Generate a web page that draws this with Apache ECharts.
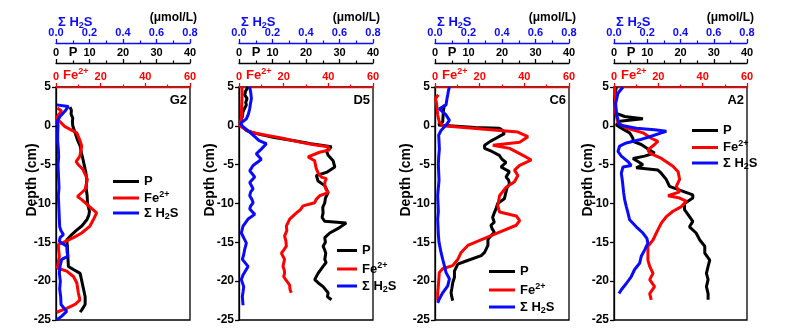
<!DOCTYPE html>
<html>
<head>
<meta charset="utf-8">
<script src="https://cdn.jsdelivr.net/npm/echarts@6/dist/echarts.min.js"></script>
<style>
  html, body { margin: 0; padding: 0; background: #fff; }
  #chart { width: 798px; height: 333px; }
</style>
</head>
<body>
<div id="chart"></div>
<script>
// Porewater profiles: depth (cm) against P, Fe2+ and ΣH2S concentrations.
// Each profile is a list of [depth, concentration] pairs.

const stations = ['G2', 'D5', 'C6', 'A2'];
const seriesNames = ['P', 'Fe2+', 'H2S'];

const depthTicks = [-25, 5, 5];      // min, max, step
const feTicks = [0, 60, 20];
const pTicks = [0, 40, 10];
const sTicks = [0, 0.8, 0.2];

// ---- G2 ----
const g2_P = [[2.4,4.2],[2.0,4.6],[1.5,4.5],[1.0,5.0],[0.5,4.9],[0,5.0],[-0.9,5.7],[-1.8,6.4],[-2.6,7.2],[-3.5,7.6],[-4.2,8.0],[-5,8.4],[-6,8.9],[-6.9,9.2],[-8,9.0],[-9,9.3],[-10,9.4],[-11,10.0],[-11.5,9.8],[-12.1,9.2],[-12.9,7.7],[-13.5,6.0],[-14,4.7],[-14.7,3.2],[-15.5,3.4],[-16.4,3.5],[-17.3,3.6],[-18.1,3.7],[-18.5,5.2],[-19,7.2],[-20,7.7],[-21,8.2],[-22,8.7],[-23,8.7],[-23.7,7.7],[-24,7.2]];
const g2_Fe = [[2.3,0.6],[1.9,2.5],[1.1,0.3],[0.6,1.5],[-0.1,4.0],[-0.9,9.3],[-1.8,10.6],[-2.6,11.5],[-3.9,10.7],[-4.6,9.0],[-5,10.0],[-5.6,12.0],[-6.3,13.2],[-6.9,14.0],[-7.5,13.6],[-8.2,13.0],[-9.1,9.6],[-9.5,11.5],[-10.4,15.0],[-11.2,18.2],[-12.1,16.7],[-12.9,15.2],[-13.8,11.5],[-14.4,7.8],[-15,3.3],[-15.3,1.0],[-16,1.2],[-16.8,1.5],[-17.6,1.0],[-18.3,0.6],[-18.7,4.8],[-19.4,7.8],[-20.2,9.3],[-21.5,10.0],[-22.4,10.7],[-23,8.5],[-23.5,4.8],[-24,0.3]];
const g2_S = [[2.7,0.004],[2.5,0.074],[1.9,0.054],[1.2,0.024],[0.6,0.008],[0,0.012],[-1,0.010],[-2,0.010],[-3,0.014],[-4,0.016],[-5,0.012],[-6,0.014],[-7,0.016],[-8,0.018],[-9,0.014],[-10,0.016],[-11,0.018],[-12,0.020],[-13,0.022],[-13.5,0.030],[-14,0.044],[-14.4,0.024],[-14.9,0.020],[-15.5,0.064],[-16.2,0.066],[-16.8,0.070],[-17.2,0.034],[-18.1,0.024],[-19,0.020],[-20,0.026],[-21,0.022],[-22,0.028],[-23,0.030],[-23.9,0.064],[-24.5,0.034],[-25,0.004]];

// ---- D5 ----
const d5_P = [[5,2.7],[4.5,2.0],[4,1.7],[3.5,2.4],[3,2.0],[2.7,2.2],[2.2,1.6],[1.8,1.2],[1.2,1.0],[0.5,0.4],[0,0.7],[-0.6,2.2],[-1,5.2],[-1.5,10.5],[-1.9,16.1],[-2.3,21.5],[-2.7,27.6],[-3.2,26.1],[-3.8,26.6],[-4.5,28.1],[-5.3,28.6],[-6,26.1],[-6.4,23.1],[-7.1,23.6],[-7.7,25.6],[-8.6,26.6],[-9.3,25.8],[-9.9,25.6],[-10.5,25.0],[-11.2,25.1],[-11.8,24.8],[-12.3,25.6],[-12.5,32.0],[-13.1,30.0],[-13.8,27.1],[-14.4,25.6],[-15,25.8],[-15.5,25.1],[-16,25.6],[-16.4,25.9],[-17.2,25.6],[-17.6,26.0],[-18.1,25.1],[-19,23.6],[-19.8,22.6],[-20.2,23.6],[-20.7,25.1],[-21.5,26.6],[-22,26.4],[-22.4,27.6]];
const d5_Fe = [[5,1.3],[4,1.4],[2.7,1.2],[1.5,1.1],[0.9,1.0],[0,0.3],[-0.8,4.8],[-1.2,12.2],[-1.6,19.5],[-2.1,27.2],[-2.4,33.0],[-2.7,39.9],[-3.1,40.6],[-3.4,36.1],[-4,30.9],[-4.5,33.9],[-5,34.2],[-5.5,34.6],[-6.1,35.5],[-6.6,36.9],[-6.8,39.1],[-7.2,38.5],[-7.7,38.4],[-8.2,39.0],[-8.6,39.9],[-9,36.1],[-9.5,34.5],[-9.9,33.9],[-10.3,28.7],[-10.8,27.5],[-11.2,25.7],[-12,22.7],[-12.9,21.2],[-13.5,21.4],[-14.2,20.4],[-14.8,21.0],[-15.5,21.2],[-16,20.0],[-16.4,19.0],[-17.2,20.4],[-17.7,20.0],[-18.1,19.7],[-18.6,20.3],[-19,20.4],[-19.4,20.0],[-19.8,20.9],[-20.5,22.7],[-21,22.8],[-21.5,23.4]];
const d5_S = [[5,0.064],[4.3,0.070],[3.5,0.074],[2.8,0.068],[2.2,0.064],[1.5,0.056],[0.9,0.044],[0.3,0.008],[-0.1,0.024],[-0.8,0.064],[-1.4,0.094],[-1.9,0.120],[-2.3,0.163],[-3,0.133],[-3.6,0.103],[-4.3,0.133],[-4.7,0.110],[-5.1,0.084],[-5.8,0.064],[-6.2,0.080],[-6.6,0.094],[-7.3,0.064],[-8.1,0.084],[-8.5,0.070],[-9,0.064],[-9.5,0.078],[-9.9,0.084],[-10.3,0.070],[-10.7,0.064],[-11.4,0.094],[-12,0.054],[-12.9,0.024],[-13.8,0.014],[-14.5,0.030],[-15.1,0.044],[-15.9,0.034],[-16.6,0.028],[-17.2,0.020],[-18.1,0.054],[-19.2,0.024],[-19.8,0.014],[-20.7,0.028],[-21.4,0.024],[-22,0.020],[-23.1,0.024]];

// ---- C6 ----
const c6_P = [[2.7,2.8],[2.2,2.6],[1.8,2.5],[1.2,2.4],[0.5,2.3],[0.1,1.0],[0,0.8],[-0.2,12.0],[-0.3,19.2],[-0.6,20.2],[-1,20.7],[-1.6,18.2],[-2,16.5],[-2.5,14.8],[-2.9,14.8],[-3.3,17.0],[-3.8,19.2],[-4.3,20.0],[-4.7,21.2],[-5.3,19.7],[-5.9,22.2],[-6.6,21.2],[-7,22.0],[-7.5,22.2],[-8,21.5],[-8.5,21.2],[-9.4,20.7],[-10,18.7],[-10.7,18.2],[-11.2,17.7],[-11.8,17.2],[-12.4,17.7],[-12.8,16.7],[-13.2,17.0],[-13.7,17.7],[-14.6,15.8],[-15.4,15.8],[-16.3,14.8],[-16.7,13.8],[-17.4,9.3],[-17.8,6.8],[-18.7,5.8],[-19.5,5.8],[-20.2,5.3],[-21,5.0],[-21.5,4.8],[-22,5.0],[-22.5,5.3]];
const c6_Fe = [[4,1.5],[3.5,0.2],[2.9,0.7],[1.4,1.2],[0.5,1.9],[0,3.4],[-0.8,37.1],[-1.4,41.6],[-2.1,37.9],[-2.5,25.9],[-2.9,33.4],[-3.8,39.4],[-4.4,43.1],[-5.1,37.9],[-5.7,35.6],[-6.4,37.1],[-7.2,35.6],[-7.9,31.9],[-9,28.9],[-10.3,28.1],[-11.1,28.9],[-11.6,36.4],[-12.2,37.9],[-12.8,36.4],[-13.7,28.9],[-14.6,21.4],[-15.4,14.7],[-16.3,11.7],[-17.2,10.2],[-18,7.9],[-18.4,3.4],[-18.9,1.9],[-19.8,1.7],[-20.6,1.5],[-21.5,1.2],[-22.5,1.2]];
const c6_S = [[5,0.086],[4.5,0.080],[4,0.076],[3.3,0.070],[2.7,0.066],[2.2,0.026],[1.4,0.066],[0.7,0.086],[0.1,0.066],[-0.6,0.036],[-1.2,0.022],[-2,0.024],[-3,0.026],[-4,0.022],[-5,0.020],[-6,0.022],[-7,0.024],[-8,0.020],[-9,0.016],[-10,0.018],[-11,0.020],[-12,0.016],[-13,0.018],[-14,0.020],[-15,0.024],[-16.3,0.036],[-17.2,0.046],[-18,0.056],[-18.9,0.066],[-19.7,0.086],[-20.6,0.076],[-21.5,0.046],[-22.3,0.026],[-22.8,0.016]];

// ---- A2 ----
const a2_P = [[5,0.7],[4.2,0.4],[3.4,0.2],[2.5,0.4],[1.6,0.7],[1.2,3.2],[0.9,8.7],[0.6,1.7],[0.1,0.7],[-0.3,2.2],[-0.9,4.7],[-1.6,5.7],[-2,5.7],[-2.4,8.2],[-3.1,10.7],[-3.5,12.2],[-3.9,9.2],[-4.2,5.7],[-4.6,7.2],[-5,8.7],[-5.4,6.7],[-5.7,13.2],[-6.1,14.2],[-6.9,15.7],[-7.8,16.7],[-8.5,21.2],[-8.9,23.7],[-9.3,23.7],[-10,21.2],[-10.8,21.2],[-11.7,22.7],[-12.3,23.7],[-13,22.7],[-13.8,24.7],[-14.7,25.8],[-15.5,27.3],[-16.4,27.3],[-17.3,28.8],[-18.1,28.3],[-19,27.8],[-19.8,28.3],[-20.7,27.8],[-21.6,28.3],[-22.4,28.3]];
const a2_Fe = [[5,0.3],[3.5,0.5],[1.6,0.8],[0.4,1.8],[-0.3,5.6],[-0.9,13.1],[-1.6,16.8],[-2,19.8],[-2.4,18.3],[-3.1,15.3],[-3.5,16.1],[-4.2,21.4],[-5.2,26.6],[-5.9,28.9],[-6.9,29.6],[-7.8,28.1],[-8.5,29.6],[-9,24.4],[-9.3,29.6],[-9.7,32.6],[-10.4,30.4],[-11,26.6],[-11.7,23.6],[-12.5,21.4],[-13.4,19.8],[-13.8,19.1],[-14.7,17.6],[-15.5,15.3],[-16.4,15.3],[-17.3,15.3],[-18.1,16.1],[-19,17.6],[-19.8,16.1],[-20.7,18.3],[-21.6,16.1],[-22.4,16.8]];
const a2_S = [[5,0.054],[4.2,0.024],[2.9,0.010],[1.6,0.014],[0.8,0.024],[0.1,0.034],[-0.3,0.134],[-0.5,0.244],[-0.7,0.315],[-0.9,0.285],[-1.4,0.214],[-1.8,0.154],[-2.2,0.074],[-2.6,0.034],[-3.3,0.024],[-3.9,0.044],[-4.6,0.084],[-5.1,0.104],[-5.3,0.054],[-6.1,0.044],[-7,0.050],[-7.8,0.054],[-8.6,0.058],[-9.5,0.064],[-10.4,0.074],[-11.2,0.084],[-12.1,0.094],[-13,0.134],[-13.8,0.174],[-14.5,0.198],[-15.1,0.204],[-16,0.184],[-16.8,0.164],[-17.7,0.154],[-18.5,0.124],[-19.4,0.104],[-20.3,0.074],[-21.1,0.044],[-21.6,0.030]];

const profiles = [
  [g2_P, g2_Fe, g2_S],
  [d5_P, d5_Fe, d5_S],
  [c6_P, c6_Fe, c6_S],
  [a2_P, a2_Fe, a2_S]
];

// ---- layout ----
const FONT = '"Liberation Sans", Arial, sans-serif';
const RED = '#ff0000', BLUE = '#0a0aff', BLACK = '#000000';
const lineColors = [BLACK, RED, BLUE];
const panelLeft = [56, 239, 435, 614];
const panelWidth = [134, 134, 134, 133];
const plotTop = 87, plotHeight = 233;
const depthLabelX = [32, 210, 406, 588];
const legendLayout = [
  { left: 113, top: 175, gap: 2, w: 26 },
  { left: 337, top: 244, gap: 4, w: 20 },
  { left: 489, top: 265, gap: 4, w: 26 },
  { left: 692, top: 124, gap: 2.5, w: 26 }
];

const richMain = { fontSize: 13, fontWeight: 'bold', fontFamily: FONT, lineHeight: 16, verticalAlign: 'middle' };
const richSup = { fontSize: 9, fontWeight: 'bold', fontFamily: FONT, lineHeight: 6, verticalAlign: 'top' };
const richSub = { fontSize: 9, fontWeight: 'bold', fontFamily: FONT, lineHeight: 6, verticalAlign: 'bottom' };

function topAxis(i, ticks, color, offset, fmt) {
  return {
    gridIndex: i, type: 'value', position: 'top', offset: offset,
    min: ticks[0], max: ticks[1], interval: ticks[2],
    axisLine: { show: true, onZero: false, lineStyle: { color: color, width: 1.3 } },
    axisTick: { show: true, inside: false, length: 4, lineStyle: { color: color, width: 1.3 } },
    minorTick: { show: true, splitNumber: 2, length: 2.5, lineStyle: { color: color, width: 1.2 } },
    axisLabel: { color: color, fontWeight: 'bold', fontSize: 11, fontFamily: FONT, margin: 5, formatter: fmt },
    splitLine: { show: false }, minorSplitLine: { show: false }
  };
}

const grid = [], xAxis = [], yAxis = [], series = [], legend = [], graphic = [];

stations.forEach(function (name, i) {
  const L = panelLeft[i], R = panelLeft[i] + panelWidth[i];
  grid.push({
    left: L, top: plotTop, width: panelWidth[i], height: plotHeight,
    show: true, borderColor: BLACK, borderWidth: 1.3, backgroundColor: 'transparent',
    containLabel: false, outerBoundsMode: 'none'
  });
  xAxis.push(topAxis(i, feTicks, RED, 0));
  xAxis.push(topAxis(i, pTicks, BLACK, 24));
  xAxis.push(topAxis(i, sTicks, BLUE, 44, function (v) { return v.toFixed(1); }));
  yAxis.push({
    gridIndex: i, type: 'value',
    min: depthTicks[0], max: depthTicks[1], interval: depthTicks[2],
    axisLine: { show: true, onZero: false, lineStyle: { color: BLACK, width: 1.3 } },
    axisTick: { show: true, inside: false, length: 4, lineStyle: { color: BLACK, width: 1.3 } },
    axisLabel: { color: BLACK, fontWeight: 'bold', fontSize: 12, fontFamily: FONT, margin: 5 },
    splitLine: { show: false }
  });

  // P on the middle axis, Fe2+ on the grid-top axis, ΣH2S on the outer axis
  const axisFor = [3 * i + 1, 3 * i, 3 * i + 2];
  profiles[i].forEach(function (prof, k) {
    series.push({
      name: seriesNames[k], type: 'line',
      xAxisIndex: axisFor[k], yAxisIndex: i,
      data: prof.map(function (d) { return [d[1], d[0]]; }),
      symbol: 'none', showSymbol: false, smooth: false,
      lineStyle: { color: lineColors[k], width: 3 },
      itemStyle: { color: lineColors[k] },
      z: 2 + k
    });
  });

  const lg = legendLayout[i];
  legend.push({
    orient: 'vertical', left: lg.left, top: lg.top,
    itemWidth: lg.w, itemHeight: 3, itemGap: lg.gap, icon: 'rect',
    selectedMode: false, padding: 0,
    data: seriesNames,
    formatter: function (n) {
      if (n === 'Fe2+') return '{m|Fe}{sup|2+}';
      if (n === 'H2S') return '{m|Σ H}{sub|2}{m|S}';
      return '{m|' + n + '}';
    },
    textStyle: { color: BLACK, rich: { m: richMain, sup: richSup, sub: richSub } }
  });

  graphic.push(
    { type: 'text', x: R + 7, y: 18, style: { text: '(μmol/L)', fill: BLACK, font: 'bold 12px ' + FONT, align: 'right', verticalAlign: 'middle' } },
    { type: 'text', x: L + 2, y: 22, style: { text: '{m|Σ H}{sub|2}{m|S}', fill: BLUE, align: 'left', verticalAlign: 'middle',
        rich: { m: Object.assign({}, richMain, { fill: BLUE }), sub: Object.assign({}, richSub, { fill: BLUE }) } } },
    { type: 'text', x: L + 17, y: 52, style: { text: 'P', fill: BLACK, font: 'bold 13px ' + FONT, align: 'center', verticalAlign: 'middle' } },
    { type: 'text', x: L + 7, y: 75, style: { text: '{m|Fe}{sup|2+}', fill: RED, align: 'left', verticalAlign: 'middle',
        rich: { m: Object.assign({}, richMain, { fill: RED }), sup: Object.assign({}, richSup, { fill: RED }) } } },
    { type: 'text', x: R - 3, y: 100, style: { text: name, fill: BLACK, font: 'bold 13px ' + FONT, align: 'right', verticalAlign: 'middle' } },
    { type: 'text', x: depthLabelX[i], y: 180, rotation: Math.PI / 2,
      style: { text: 'Depth (cm)', fill: BLACK, font: 'bold 14px ' + FONT, align: 'center', verticalAlign: 'middle' } }
  );
});

const chart = echarts.init(document.getElementById('chart'), null, { renderer: 'canvas' });
chart.setOption({
  animation: false,
  backgroundColor: '#ffffff',
  textStyle: { fontFamily: FONT },
  grid: grid, xAxis: xAxis, yAxis: yAxis,
  series: series, legend: legend, graphic: graphic
});
</script>
</body>
</html>
